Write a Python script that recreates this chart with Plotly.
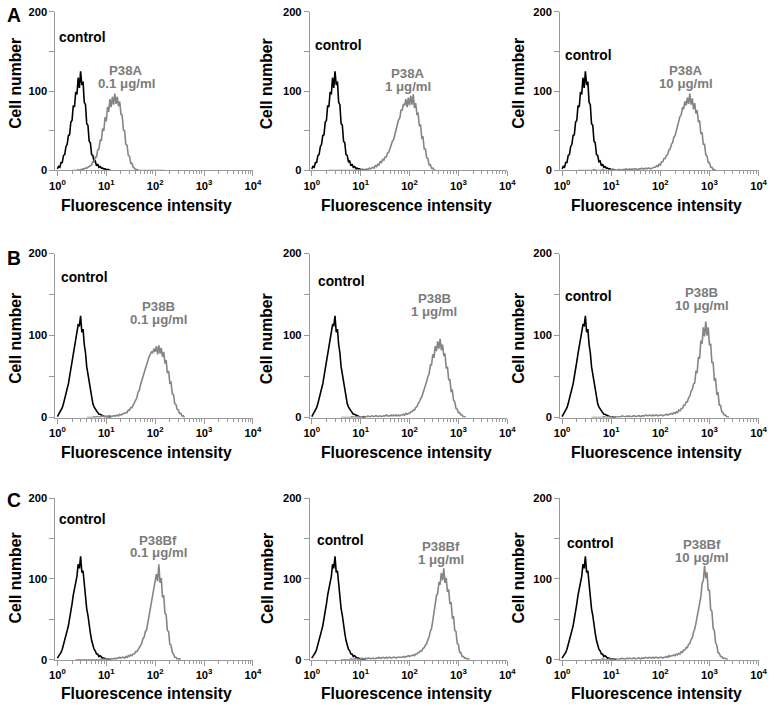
import plotly.graph_objects as go

# ---------------- data (counts per channel; 1 channel = 0.025 decade) ----------------
CHANNEL_STEP = 0.025

control_A = [2, 5, 4, 10, 10, 19, 20, 30, 33, 44, 45, 61, 63, 82, 80, 99, 96, 117, 104, 125,
             108, 112, 86, 83, 59, 57, 37, 35, 20, 19, 11, 12, 6, 8, 4, 5, 3, 3, 2, 2, 1, 1, 1, 0, 0]
control_B = [1, 4, 5, 9, 12, 17, 22, 28, 35, 41, 49, 58, 68, 78, 86, 95, 103, 113, 112, 124,
             104, 108, 89, 79, 62, 53, 40, 32, 23, 17, 13, 10, 7, 6, 4, 4, 3, 2, 2, 1, 1, 1, 0, 1, 0]
control_C = [2, 4, 6, 9, 13, 18, 23, 29, 36, 42, 50, 59, 69, 80, 87, 98, 103, 118, 113, 128,
             108, 110, 91, 81, 63, 55, 41, 33, 24, 18, 13, 11, 7, 7, 4, 5, 3, 2, 2, 1, 1, 1, 0, 0, 0]

p38a_01_start = 12
p38a_01 = [0, 0, 0, 0, 0, 1, 0, 1, 1, 2, 2, 3, 3, 4, 5, 6,
           7, 11, 11, 17, 17, 26, 27, 38, 38, 53, 50, 67, 62, 80, 74, 90, 80, 93, 83, 97, 84, 93,
           81, 87, 71, 70, 51, 50, 33, 32, 19, 18, 9, 9, 4, 3, 1, 1,
           0, 0, 0, 0, 0, 0, 0, 0, 0, 0, 0, 0, 0, 0, 0, 0, 0, 0, 0, 0, 0, 0, 0]

p38a_1_start = 14
p38a_1 = [0, 0, 0, 0, 0, 0, 0, 0, 0, 0, 0, 0, 0, 0, 0, 0, 0, 0, 0, 0, 0, 0, 1, 0, 0, 1, 0, 1, 0, 1,
          1, 2, 1, 3, 2, 3, 4, 3, 6, 5, 8, 7, 11, 10, 14, 13, 17, 17, 22, 23, 28, 30, 37, 39,
          45, 52, 55, 64, 66, 76, 76, 84, 82, 90, 80, 92, 82, 94, 83, 96, 79, 85, 71, 72, 56,
          58, 41, 42, 27, 27, 16, 15, 7, 7, 3, 3, 1, 0]

p38a_10_start = 13
p38a_10 = [0, 0, 0, 0, 0, 0, 0, 0, 0, 0, 0, 0, 0, 1, 0, 0, 0, 0, 0, 0, 1, 0, 0, 0, 0, 0, 0,
           1, 0, 1, 1, 0, 1, 1, 1, 0, 1, 1, 1, 2, 1, 1, 2, 1, 2, 1, 2, 2, 1, 2, 2, 2, 3, 2, 2, 3,
           2, 3, 3, 2, 3,
           3, 4, 4, 6, 5, 8, 7, 11, 11, 15, 15, 19, 20, 26, 27, 33, 35, 42, 44,
           50, 56, 59, 68, 70, 79, 78, 87, 82, 92, 84, 97, 83, 91, 77, 85, 72, 76, 61, 63, 46,
           48, 33, 33, 20, 18, 10, 10, 4, 4, 1, 1, 0]

p38b_01_start = 24
p38b_01 = [0, 0, 0, 0, 0, 0, 1, 0,
           1, 1, 0, 1, 1, 2, 1, 1, 2, 1, 2, 2, 1, 2, 2, 2,
           2, 3, 2, 4, 3, 4, 5, 5, 6, 6, 9, 9, 12, 12, 15, 17, 22, 24, 31, 33,
           40, 45, 49, 56, 60, 66, 70, 74, 77, 80, 79, 84, 80, 87, 77, 88, 78, 85, 74, 80, 66,
           70, 54, 57, 42, 43, 29, 28, 17, 16, 10, 9, 5, 5, 2, 2, 0]

p38b_1_start = 24
p38b_1 = [0, 0, 0, 0, 0, 0, 0, 0, 0, 1, 0, 0, 1, 0, 1, 0,
          1, 1, 0, 1, 1, 1, 2, 1, 1, 2, 1, 1, 2, 2, 1, 2, 2, 1, 2, 2, 2, 3, 2, 2, 2, 3, 2, 3,
          2, 3, 2, 3,
          2, 3, 3, 4, 3, 5, 4, 5, 5, 7, 7, 9, 9, 12, 13, 17, 19, 23, 25, 30, 34, 40, 44, 50,
          53, 64, 64, 77, 73, 87, 81, 93, 84, 96, 82, 89, 75, 78, 60, 62, 46, 46, 32, 33, 21,
          19, 11, 10, 6, 6, 3, 3, 1, 1, 0]

p38b_10_start = 24
p38b_10 = [0, 0, 0, 0, 0, 0, 0, 0, 0, 0, 1, 0, 0, 0, 1, 0,
           1, 0, 1, 1, 1, 0, 1, 1, 1, 2, 1, 1, 1, 2, 1, 2, 1, 1, 2, 2, 1, 2, 2, 2, 1, 2, 2, 2,
           3, 2, 2, 3, 2, 2, 3, 2, 3, 3, 2, 3, 3, 3, 2, 3,
           3, 4, 3, 4, 4, 5, 4, 6, 5, 7, 6, 9, 8, 11, 11, 15, 15, 19, 19, 24, 26, 32, 34, 41,
           42, 56, 55, 73, 72, 94, 90, 110, 99, 117, 100, 110, 88, 90, 67, 67, 46, 47, 29, 30,
           15, 15, 7, 6, 3, 3, 1, 1, 0]

p38bf_01_start = 15
p38bf_01 = [0, 0, 0, 0, 0, 0, 0, 0, 0, 0, 0, 0, 0, 0, 0, 0, 0, 0, 0, 0,
            0, 1, 0, 1, 0, 1, 1, 0, 1, 1, 1,
            1, 2, 1, 2, 2, 3, 2, 3, 3, 2, 4, 3, 5, 4, 6, 5, 7, 7, 10, 10, 13, 14, 18, 20, 26,
            28, 35, 37, 46, 55, 63, 74, 80, 92, 96, 106, 97, 118, 95, 101, 77, 80, 57, 56, 36,
            35, 19, 18, 9, 7, 3, 3, 1, 1, 1, 0]

p38bf_1_start = 24
p38bf_1 = [0, 0, 0, 0, 0, 0, 0, 0, 1, 0, 0, 1,
           1, 1, 0, 1, 1, 2, 1, 1, 2, 1, 2, 2, 1, 2, 2, 1, 2, 2, 2, 3, 2, 2, 3, 2, 2, 3, 2, 3,
           3, 2, 3, 3, 3, 2, 3, 3, 3, 3,
           3, 4, 3, 4, 4, 5, 4, 5, 5, 6, 5, 7, 7, 9, 9, 11, 11, 14, 15, 18, 20, 25, 28, 35, 39,
           48, 59, 66, 79, 82, 95, 94, 107, 98, 113, 95, 101, 84, 87, 69, 71, 52, 53, 36, 35,
           20, 19, 9, 9, 4, 4, 2, 2, 1, 1, 0]

p38bf_10_start = 24
p38bf_10 = [0, 0, 0, 0, 0, 0, 0, 0, 0, 1, 0, 0, 0, 0, 1, 0,
            1, 0, 1, 1, 1, 0, 1, 1, 1, 2, 1, 1, 1, 2, 1, 2, 1, 1, 2, 2, 1, 2, 2, 2, 1, 2, 2, 2,
            3, 2, 2, 3, 2, 2, 3, 2, 3, 3, 2, 3, 3, 3, 2, 3,
            3, 4, 3, 5, 4, 5, 5, 6, 5, 7, 6, 8, 7, 10, 9, 12, 12, 15, 15, 19, 20, 25, 27, 34, 38,
            45, 54, 59, 73, 78, 94, 98, 116, 101, 108, 86, 86, 62, 60, 39, 36, 21, 18, 9, 8,
            4, 4, 2, 2, 1, 1, 0]

row_letters = ["A", "B", "C"]
sample_names = [["P38A", "P38A", "P38A"], ["P38B", "P38B", "P38B"], ["P38Bf", "P38Bf", "P38Bf"]]
doses = ["0.1 μg/ml", "1 μg/ml", "10 μg/ml"]
controls = [control_A, control_B, control_C]
samples = [[(p38a_01_start, p38a_01), (p38a_1_start, p38a_1), (p38a_10_start, p38a_10)],
           [(p38b_01_start, p38b_01), (p38b_1_start, p38b_1), (p38b_10_start, p38b_10)],
           [(p38bf_01_start, p38bf_01), (p38bf_1_start, p38bf_1), (p38bf_10_start, p38bf_10)]]

x_tick_vals = [1, 10, 100, 1000, 10000]
x_tick_text = ["10<sup>0</sup>", "10<sup>1</sup>", "10<sup>2</sup>", "10<sup>3</sup>", "10<sup>4</sup>"]
x_minor_vals = [m * 10 ** d for d in range(4) for m in range(2, 10)]
y_tick_vals = [0, 100, 200]
y_tick_text = ["0", "100", "200"]
y_minor_vals = [50, 150]

# ---------------- layout geometry (figure pixels) ----------------
W, H = 777, 708
FS = 1.017  # size factor
col_px = [(50.4, 251.8), (309.8, 511.2), (565.0, 767.4)]
row_px = [(6.0, 167.3), (251.8, 418.6), (500.5, 665.0)]
xtitle_x = [143.4, 407.9, 663.7]
xtitle_y = [202.9, 454.2, 699.0]
ytitle_x = [9.5, 266.0, 522.4]
ytitle_y = [78.8, 338.2, 582.0]
letter_pos = [(8.0, 10.0), (8.0, 256.9), (8.0, 503.5)]
# label positions in data coords (log10 x, count)
control_pos = [[(0.51, 168), (0.54, 157), (0.54, 145)],
               [(0.56, 171), (0.61, 166), (0.53, 148)],
               [(0.51, 173), (0.58, 148), (0.58, 144)]]
sample_pos = [[(1.41, 126), (1.96, 122), (2.53, 126)],
              [(2.06, 135), (2.51, 145), (2.84, 153)],
              [(2.06, 148), (2.65, 140), (2.85, 142)]]

FONT = "Liberation Sans, Arial, Helvetica, sans-serif"
AXIS_GRAY = "#9a9a9a"
CURVE_GRAY = "#858585"
TEXT_GRAY = "#7c7c7c"

fig = go.Figure()
annotations = []


def px_x(p):
    return p / W


def px_y(p):
    return 1 - p / H


for r in range(3):
    for c in range(3):
        k = r * 3 + c + 1
        xa = "x" if k == 1 else f"x{k}"
        ya = "y" if k == 1 else f"y{k}"
        ctrl = controls[r]
        fig.add_trace(go.Scatter(
            x=[10 ** (i * CHANNEL_STEP) for i in range(len(ctrl))], y=ctrl,
            mode="lines", line=dict(color="black", width=1.6), xaxis=xa, yaxis=ya,
            showlegend=False, hoverinfo="skip"))
        start, vals = samples[r][c]
        fig.add_trace(go.Scatter(
            x=[10 ** ((start + i) * CHANNEL_STEP) for i in range(len(vals))], y=vals,
            mode="lines", line=dict(color=CURVE_GRAY, width=1.6), xaxis=xa, yaxis=ya,
            showlegend=False, hoverinfo="skip"))

        x0, x1 = col_px[c]
        y0, y1 = row_px[r]
        axis_common = dict(showgrid=False, zeroline=False, showline=True, linecolor=AXIS_GRAY,
                           linewidth=1, ticks="outside", tickcolor=AXIS_GRAY, tickwidth=1,
                           tickfont=dict(family=FONT, size=11 * FS, color="black", weight="bold"))
        fig.update_layout(**{
            ("xaxis" if k == 1 else f"xaxis{k}"): dict(
                axis_common, type="log", range=[-0.04, 4.0],
                domain=[px_x(x0), px_x(x1)], anchor=ya,
                tickmode="array", tickvals=x_tick_vals, ticktext=x_tick_text, ticklen=5,
                minor=dict(tickmode="array", tickvals=x_minor_vals, ticks="outside",
                           ticklen=3, tickcolor=AXIS_GRAY, showgrid=False)),
            ("yaxis" if k == 1 else f"yaxis{k}"): dict(
                axis_common, range=[0, 200], domain=[px_y(y1), px_y(y0)], anchor=xa,
                tickmode="array", tickvals=y_tick_vals, ticktext=y_tick_text, ticklen=5,
                minor=dict(tickmode="array", tickvals=y_minor_vals, ticks="outside",
                           ticklen=5, tickcolor=AXIS_GRAY, showgrid=False)),
        })

        # axis titles
        annotations.append(dict(text="Fluorescence intensity", xref="paper", yref="paper",
                                x=px_x(xtitle_x[c]), y=px_y(xtitle_y[r]),
                                xanchor="center", yanchor="middle", showarrow=False,
                                font=dict(family=FONT, size=15.5 * FS, color="black", weight="bold")))
        annotations.append(dict(text="Cell number", xref="paper", yref="paper",
                                x=px_x(ytitle_x[c]), y=px_y(ytitle_y[r]), textangle=-90,
                                xanchor="center", yanchor="middle", showarrow=False,
                                font=dict(family=FONT, size=15.5 * FS, color="black", weight="bold")))
        # curve labels
        cx, cy = control_pos[r][c]
        annotations.append(dict(text="control", xref=xa, yref=ya, x=cx, y=cy,
                                xanchor="center", yanchor="middle", showarrow=False,
                                font=dict(family=FONT, size=13.5 * FS, color="black", weight="bold")))
        sx, sy = sample_pos[r][c]
        annotations.append(dict(text=sample_names[r][c], xref=xa, yref=ya, x=sx, y=sy,
                                xanchor="center", yanchor="middle", showarrow=False,
                                font=dict(family=FONT, size=13 * FS, color=TEXT_GRAY, weight="bold")))
        annotations.append(dict(text=doses[c], xref=xa, yref=ya, x=sx, y=sy - 16,
                                xanchor="center", yanchor="middle", showarrow=False,
                                font=dict(family=FONT, size=13 * FS, color=TEXT_GRAY, weight="bold")))

    lx, ly = letter_pos[r]
    annotations.append(dict(text=row_letters[r], xref="paper", yref="paper",
                            x=px_x(lx), y=px_y(ly),
                            xanchor="center", yanchor="middle", showarrow=False,
                            font=dict(family=FONT, size=19 * FS, color="black", weight="bold")))

fig.update_layout(width=W, height=H, margin=dict(l=0, r=0, t=0, b=0),
                  paper_bgcolor="white", plot_bgcolor="white",
                  annotations=annotations, showlegend=False)

fig.write_html("out.html", config={"displayModeBar": False},
               post_script="document.body.style.margin='0px'; document.body.style.padding='0px';")
